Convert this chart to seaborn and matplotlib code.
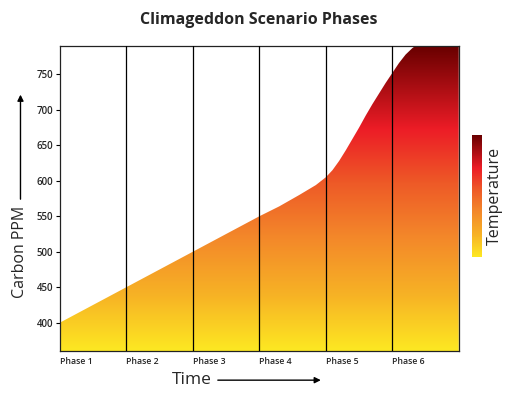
import numpy as np
import matplotlib
matplotlib.use("Agg")
import matplotlib.pyplot as plt
import seaborn as sns
from matplotlib.colors import LinearSegmentedColormap
from matplotlib.patches import FancyArrowPatch

# data
phases = ["Phase 1", "Phase 2", "Phase 3", "Phase 4", "Phase 5", "Phase 6"]
time_x = [0, 1, 2, 3, 3.3, 3.6, 3.85, 4, 4.1, 4.2, 4.3, 4.4, 4.5, 4.6, 4.7,
          4.8, 4.9, 5.0, 5.1, 5.2, 5.3, 5.4, 5.5, 6]
carbon_ppm = [400, 450, 500, 550, 564, 580, 594, 605, 615, 628, 643, 659, 675, 692, 708,
              723, 738, 752, 766, 778, 787, 794, 800, 800]
y_ticks = [400, 450, 500, 550, 600, 650, 700, 750]

heat = LinearSegmentedColormap.from_list("heat", [
    (0.0, "#fde822"), (0.18, "#f7b325"), (0.38, "#f3862a"),
    (0.55, "#ee5a27"), (0.73, "#ec1c26"), (1.0, "#690000")])

sns.set_style("white")
plt.rcParams['font.family'] = ['Open Sans', 'DejaVu Sans']

fig = plt.figure(figsize=(5.12, 3.96), dpi=100)
ax = fig.add_axes([0.117, 0.1136, 0.779, 0.770])

y0, y1 = 360, 790
sns.lineplot(x=time_x, y=carbon_ppm, ax=ax, lw=0)
poly = ax.fill_between(time_x, y0, carbon_ppm, color="none", lw=0)
grad = np.linspace(0, 1, 256).reshape(-1, 1)
img = ax.imshow(grad, cmap=heat, origin="lower", aspect="auto",
                extent=[0, 6, y0, y1], zorder=1)
img.set_clip_path(poly.get_paths()[0], transform=ax.transData)

for i in range(1, 6):
    ax.axvline(i, color="black", lw=0.9, zorder=3)

ax.set_xlim(0, 6)
ax.set_ylim(y0, y1)
ax.set_yticks(y_ticks)
ax.set_yticklabels([str(v) for v in y_ticks], fontsize=7, fontweight="semibold")
ax.set_xticks(range(6))
ax.set_xticklabels(phases, fontsize=6.3, fontweight="semibold", ha="left")
ax.tick_params(axis="x", length=0, pad=4)
ax.tick_params(axis="y", length=3, width=0.8, color="black", pad=2, left=True)
for s in ax.spines.values():
    s.set_color("#222222")
    s.set_linewidth(0.9)
ax.set_xlabel("")
ax.set_ylabel("")

fig.text(0.505, 0.95, "Climageddon Scenario Phases", ha="center", va="center",
         fontsize=11.5, fontweight="bold")

# axis labels with arrows
fig.text(0.04, 0.364, "Carbon PPM", rotation=90, ha="center", va="center", fontsize=11.5)
fig.add_artist(FancyArrowPatch(
    (0.04, 0.49), (0.04, 0.768), transform=fig.transFigure,
    arrowstyle="-|>", mutation_scale=9, lw=1, color="black"))
fig.text(0.374, 0.04, "Time", ha="center", va="center", fontsize=12.5)
fig.add_artist(FancyArrowPatch(
    (0.42, 0.04), (0.632, 0.04), transform=fig.transFigure,
    arrowstyle="-|>", mutation_scale=9, lw=1, color="black"))

# temperature colour bar
cax = fig.add_axes([0.922, 0.351, 0.02, 0.308])
sm = plt.cm.ScalarMappable(cmap=heat)
cb = fig.colorbar(sm, cax=cax)
cb.set_ticks([])
cb.outline.set_visible(False)
cb.set_label("Temperature", fontsize=11.5, labelpad=3)

fig.savefig("out.png", dpi=100)
